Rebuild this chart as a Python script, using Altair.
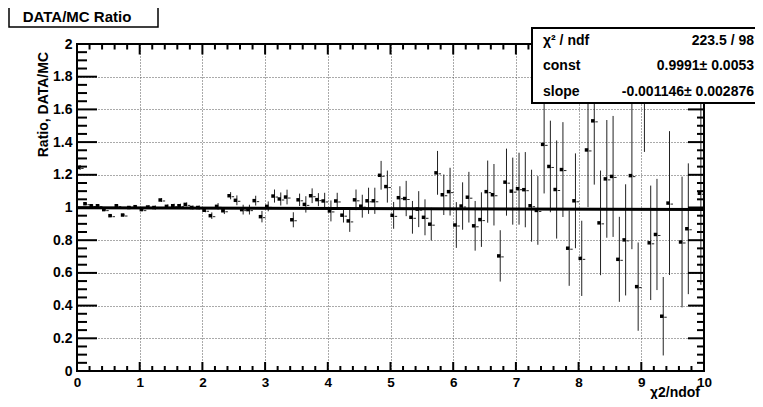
import altair as alt
import pandas as pd

# ---------------- data ----------------
bin_centers = [round(0.05 + 0.1 * i, 2) for i in range(100)]

ratio = [
    1.245, 1.023, 1.011, 1.011, 0.987, 0.950, 1.011, 0.954, 1.000, 1.005,
    0.987, 1.003, 1.000, 1.046, 1.007, 1.011, 1.011, 1.019, 1.000, 1.000,
    0.983, 0.950, 1.007, 0.980, 1.072, 1.044, 0.987, 0.987, 1.042, 0.944,
    1.007, 1.070, 1.052, 1.064, 0.925, 1.047, 1.019, 1.072, 1.048, 1.040,
    0.979, 1.040, 0.953, 0.918, 1.047, 1.008, 1.041, 1.041, 1.197, 1.128,
    0.952, 1.060, 1.055, 0.940, 0.990, 0.940, 0.898, 1.212, 1.078, 1.097,
    0.893, 1.009, 1.063, 0.888, 0.926, 1.097, 1.078, 0.704, 1.155, 1.100,
    1.115, 1.109, 1.011, 0.982, 1.386, 1.251, 1.110, 1.232, 0.751, 1.041,
    0.689, 1.352, 1.530, 0.906, 1.175, 1.190, 0.683, 0.802, 1.195, 0.516,
    1.750, 0.784, 0.835, 0.335, 1.027, None, 0.789, 0.870, None, 1.087,
]

errors = [
    0.015, 0.008, 0.008, 0.008, 0.008, 0.008, 0.008, 0.008, 0.008, 0.008,
    0.008, 0.012, 0.012, 0.012, 0.012, 0.012, 0.012, 0.012, 0.012, 0.012,
    0.012, 0.020, 0.020, 0.020, 0.022, 0.030, 0.030, 0.030, 0.030, 0.035,
    0.030, 0.040, 0.040, 0.045, 0.046, 0.038, 0.050, 0.045, 0.040, 0.050,
    0.064, 0.050, 0.045, 0.067, 0.063, 0.070, 0.080, 0.080, 0.088, 0.098,
    0.082, 0.070, 0.108, 0.100, 0.110, 0.110, 0.100, 0.134, 0.124, 0.146,
    0.140, 0.145, 0.155, 0.152, 0.167, 0.190, 0.188, 0.157, 0.205, 0.205,
    0.220, 0.230, 0.220, 0.210, 0.300, 0.280, 0.300, 0.290, 0.230, 0.290,
    0.230, 0.350, 0.390, 0.320, 0.360, 0.370, 0.260, 0.340, 0.450, 0.270,
    0.410, 0.350, 0.340, 0.240, 0.440, None, 0.400, 0.400, None, 0.560,
]

fit_const = 0.9991
fit_slope = -0.001146

x_major = [0, 1, 2, 3, 4, 5, 6, 7, 8, 9, 10]
x_minor = [round(0.2 * i, 1) for i in range(51) if i % 5]
y_major = [round(0.2 * i, 1) for i in range(11)]
y_minor = [round(0.05 * i, 2) for i in range(41) if i % 4]

title_text = "DATA/MC Ratio"
x_title = "χ2/ndof"
y_title = "Ratio, DATA/MC"
stats_labels = ["χ² / ndf", "const", "slope"]
stats_values = ["223.5 / 98", "0.9991± 0.0053", "-0.001146± 0.002876"]

# ---------------- build ----------------
FONT = "Liberation Sans"
W, H = 627, 327

df = pd.DataFrame({"x": bin_centers, "ratio": ratio, "err": errors}).dropna()
df["lo"] = df["ratio"] - df["err"]
df["hi"] = df["ratio"] + df["err"]

fit_df = pd.DataFrame({"x": [0.0, 10.0]})
fit_df["y"] = fit_const + fit_slope * fit_df["x"]

one = pd.DataFrame({"a": [0]})

xs = alt.Scale(domain=[0, 10], nice=False, zero=False)
ys = alt.Scale(domain=[0, 2], nice=False, zero=False)

x_axis = alt.Axis(values=x_major, grid=True, gridDash=[1, 2], gridColor="#555",
                  gridWidth=1, ticks=False, tickSize=0, domain=False,
                  labelFont=FONT, labelFontWeight="bold", labelFontSize=13.5,
                  labelColor="black", labelPadding=4, labelFlush=False,
                  format="d", title=None)
y_axis = alt.Axis(values=y_major, grid=True, gridDash=[1, 2], gridColor="#555",
                  gridWidth=1, ticks=False, tickSize=0, domain=False,
                  labelFont=FONT, labelFontWeight="bold", labelFontSize=14,
                  labelColor="black", labelPadding=5, labelFlush=False,
                  format=".1~f", title=None)


def X(field):
    return alt.X(field, scale=xs, axis=x_axis)


def Y(field):
    return alt.Y(field, scale=ys, axis=y_axis)


errbars = alt.Chart(df).mark_rule(color="#222", strokeWidth=1, clip=True).encode(
    x=X("x:Q"), y=Y("lo:Q"), y2="hi:Q",
)

markers = alt.Chart(df).mark_square(size=12, color="black", opacity=1,
                                    xOffset=-1.5, clip=True).encode(
    x=X("x:Q"), y=Y("ratio:Q"),
)

dashes = alt.Chart(df).mark_rule(color="#222", strokeWidth=1, xOffset=1,
                                 x2Offset=3.5, yOffset=1, clip=True).encode(
    x=X("x:Q"), x2="x:Q", y=Y("ratio:Q"),
)

fit_line = alt.Chart(fit_df).mark_line(color="black", strokeWidth=3).encode(
    x=X("x:Q"), y=Y("y:Q"),
)

frame = alt.Chart(one).mark_rect(fillOpacity=0, stroke="black", strokeWidth=2).encode(
    x=alt.value(0), x2=alt.value(W), y=alt.value(0), y2=alt.value(H)
)


def xticks(vals, y0, y1):
    return alt.Chart(pd.DataFrame({"v": vals})).mark_rule(color="black", strokeWidth=2).encode(
        x=X("v:Q"), y=alt.value(y0), y2=alt.value(y1)
    )


def yticks(vals, x0, x1):
    return alt.Chart(pd.DataFrame({"v": vals})).mark_rule(color="black", strokeWidth=2).encode(
        y=Y("v:Q"), x=alt.value(x0), x2=alt.value(x1)
    )


ticks = [
    xticks(x_major, H, H - 9), xticks(x_minor, H, H - 5),
    xticks(x_major, 0, 10.5), xticks(x_minor, 0, 5.5),
    yticks(y_major, 0, 20), yticks(y_minor, 0, 10),
    yticks(y_major, W, W - 16), yticks(y_minor, W, W - 7),
]

stats_box = alt.Chart(one).mark_rect(fill="white", stroke="black", strokeWidth=2).encode(
    x=alt.value(455), x2=alt.value(760), y=alt.value(-16), y2=alt.value(59)
)

stats_texts = []
row_y = [1, 26, 52]
for lab, val, yy in zip(stats_labels, stats_values, row_y):
    stats_texts.append(alt.Chart(one).mark_text(
        text=lab, font=FONT, fontWeight="bold", fontSize=14, align="left",
        baseline="alphabetic", color="black").encode(x=alt.value(466), y=alt.value(yy)))
    stats_texts.append(alt.Chart(one).mark_text(
        text=val, font=FONT, fontWeight="bold", fontSize=14, align="right",
        baseline="alphabetic", color="black").encode(x=alt.value(677), y=alt.value(yy)))

title_box = alt.Chart(one).mark_rect(fill="white", stroke="black", strokeWidth=1.5).encode(
    x=alt.value(-68), x2=alt.value(81), y=alt.value(-39), y2=alt.value(-17)
)
title_txt = alt.Chart(one).mark_text(
    text=title_text, font=FONT, fontWeight="bold", fontSize=15, align="left",
    baseline="middle", color="black").encode(x=alt.value(-54.3), y=alt.value(-27.5))

ytitle = alt.Chart(one).mark_text(
    text=y_title, font=FONT, fontWeight="bold", fontSize=14, align="right",
    baseline="alphabetic", angle=270, color="black").encode(x=alt.value(-29), y=alt.value(8))

xtitle = alt.Chart(one).mark_text(
    text=x_title, font=FONT, fontWeight="bold", fontSize=14, align="right",
    baseline="alphabetic", color="black").encode(x=alt.value(623), y=alt.value(353))

chart = alt.layer(
    errbars, markers, dashes, fit_line, frame, *ticks,
    stats_box, *stats_texts, title_box, title_txt, ytitle, xtitle
).properties(
    width=W, height=H,
    padding={"left": 69, "top": 36, "right": 51, "bottom": 28},
    autosize=alt.AutoSizeParams(type="none"),
    background="white",
).configure_view(stroke=None)

chart.save("out.html", embed_options={"renderer": "svg", "actions": False})
